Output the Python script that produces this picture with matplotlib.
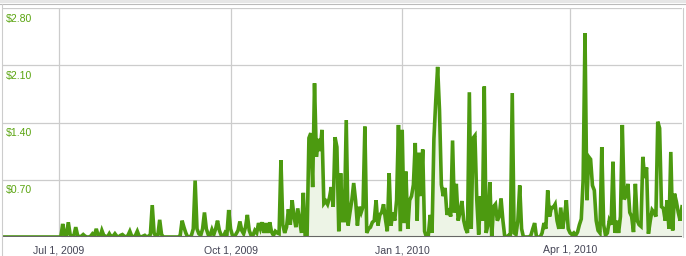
import numpy as np
import pandas as pd
import matplotlib
matplotlib.use("Agg")
import matplotlib.pyplot as plt
from matplotlib.lines import Line2D
from matplotlib.patches import Rectangle

# daily revenue, Jun 1 2009 .. Jun 1 2010
jun_2009 = [0.0] * 30
jul_2009 = [0.0, 0.0, 0.16, 0.03, 0.02, 0.18, 0.03, 0.0, 0.02, 0.12, 0.02, 0.0, 0.01, 0.03, 0.01, 0.0,
            0.0, 0.01, 0.04, 0.02, 0.10, 0.02, 0.0, 0.08, 0.02, 0.01, 0.0, 0.04, 0.0, 0.01, 0.04]
aug_2009 = [0.01, 0.0, 0.02, 0.03, 0.01, 0.0, 0.02, 0.07, 0.01, 0.0, 0.02, 0.07, 0.01, 0.0, 0.01, 0.02,
            0.0, 0.01, 0.03, 0.39, 0.05, 0.0, 0.02, 0.21, 0.03, 0.0, 0.0, 0.0, 0.0, 0.0, 0.0]
sep_2009 = [0.0, 0.0, 0.0, 0.02, 0.20, 0.12, 0.05, 0.0, 0.0, 0.02, 0.10, 0.69, 0.10, 0.04, 0.02,
            0.10, 0.30, 0.10, 0.03, 0.02, 0.09, 0.03, 0.10, 0.20, 0.08, 0.02, 0.0, 0.05, 0.02, 0.33]
oct_2009 = [0.10, 0.02, 0.0, 0.04, 0.08, 0.19, 0.08, 0.04, 0.12, 0.27, 0.08, 0.02, 0.02, 0.08, 0.05, 0.17,
            0.10, 0.18, 0.05, 0.17, 0.05, 0.18, 0.06, 0.02, 0.07, 0.05, 0.04, 0.94, 0.15, 0.05, 0.12]
nov_2009 = [0.34, 0.15, 0.45, 0.25, 0.12, 0.35, 0.20, 0.05, 0.54, 0.0, 0.0, 1.21, 1.27, 0.61, 1.88,
            0.98, 1.20, 1.05, 1.31, 0.41, 0.44, 0.40, 0.48, 0.61, 0.37, 1.22, 1.10, 0.07, 0.78, 0.20]
dec_2009 = [0.20, 1.43, 0.14, 0.30, 0.45, 0.66, 0.45, 0.14, 0.37, 0.30, 0.37, 1.35, 0.05, 0.10, 0.12, 0.18,
            0.20, 0.45, 0.14, 0.27, 0.30, 0.40, 0.22, 0.07, 0.78, 0.14, 0.30, 0.20, 0.45, 1.37, 0.07]
jan_2010 = [1.31, 0.17, 0.80, 0.10, 0.45, 0.50, 0.64, 1.15, 0.20, 1.03, 0.50, 1.07, 0.07, 0.0, 0.02, 0.27,
            0.05, 1.20, 1.67, 2.08, 1.55, 0.64, 0.50, 0.60, 0.27, 0.35, 0.25, 1.18, 0.30, 0.65, 0.20]
feb_2010 = [0.30, 0.44, 0.20, 0.10, 0.05, 1.77, 0.10, 1.21, 1.24, 0.45, 0.03, 0.50, 0.20, 1.84,
            0.05, 0.15, 0.67, 0.0, 0.37, 0.40, 0.20, 0.25, 0.47, 0.20, 0.0, 0.0, 0.02, 0.03]
mar_2010 = [1.76, 0.05, 0.03, 0.20, 0.63, 0.10, 0.0, 0.0, 0.0, 0.0, 0.02, 0.10, 0.17, 0.0, 0.0, 0.0,
            0.05, 0.17, 0.10, 0.57, 0.25, 0.36, 0.36, 0.40, 0.20, 0.10, 0.36, 0.10, 0.25, 0.45, 0.10]
apr_2010 = [0.05, 0.03, 0.05, 0.02, 0.06, 0.15, 0.22, 0.70, 2.49, 0.45, 0.98, 0.95, 0.63, 0.57, 0.20,
            0.08, 0.05, 1.10, 0.15, 0.02, 0.05, 0.20, 0.15, 0.92, 0.05, 0.20, 0.05, 0.25, 1.37, 0.46]
may_2010 = [0.50, 0.65, 0.30, 0.25, 0.06, 0.65, 0.20, 0.15, 0.13, 0.98, 0.72, 0.85, 0.04, 0.20, 0.33, 0.30,
            0.25, 1.41, 1.33, 0.37, 0.35, 0.20, 0.45, 0.10, 1.04, 0.08, 0.53, 0.43, 0.30, 0.20, 0.37]

values = (jun_2009 + jul_2009 + aug_2009 + sep_2009 + oct_2009 + nov_2009 + dec_2009
          + jan_2010 + feb_2010 + mar_2010 + apr_2010 + may_2010)
dates = pd.date_range("2009-06-01", periods=len(values), freq="D")

y_ticks = [0.70, 1.40, 2.10, 2.80]
y_labels = ["$0.70", "$1.40", "$2.10", "$2.80"]
x_ticks = ["2009-07-01", "2009-10-01", "2010-01-01", "2010-04-01"]
x_labels = ["Jul 1, 2009", "Oct 1, 2009", "Jan 1, 2010", "Apr 1, 2010"]

line_color = "#4c9a10"
fill_color = "#edf4e6"
grid_color = "#cccccc"

fig = plt.figure(figsize=(6.86, 2.56), dpi=100)
ax = fig.add_axes([3 / 686, 19 / 256, 679 / 686, 229 / 256])

ax.fill_between(dates, values, 0, color=fill_color, lw=0)
ax.plot(dates, values, color=line_color, lw=2.6, solid_joinstyle="miter")

ax.set_xlim(dates[0], dates[-1])
ax.set_ylim(0, 2.80)

for t in y_ticks:
    ax.axhline(t, color=grid_color, lw=0.9, zorder=0)
for t in x_ticks:
    ax.axvline(pd.Timestamp(t), color=grid_color, lw=0.9, zorder=0)
ax.axhline(0, color="#666666", lw=1.5, zorder=3)

ax.set_xticks([])
ax.set_yticks([])
for s in ax.spines.values():
    s.set_visible(False)

for t, lab in zip(y_ticks, y_labels):
    ax.annotate(lab, xy=(0, t), xycoords=("axes fraction", "data"), xytext=(2, -4),
                textcoords="offset points", ha="left", va="top", fontsize=7.6,
                color="#5aa410", family="Liberation Sans")

for t, lab in zip(x_ticks, x_labels):
    ax.annotate(lab, xy=(pd.Timestamp(t), 0), xycoords=("data", "axes fraction"), xytext=(0, -6),
                textcoords="offset points", ha="center", va="top", fontsize=7.6,
                color="#444455", family="Liberation Sans")

# outer frame of the page widget
fig.patches.append(Rectangle((0, 253 / 256), 1, 3 / 256, transform=fig.transFigure,
                             color="#e6e6e6", lw=0))
fig.lines.append(Line2D([0, 1], [252.5 / 256, 252.5 / 256], transform=fig.transFigure,
                        color="#bbbbbb", lw=0.8))
fig.lines.append(Line2D([1.5 / 686, 1.5 / 686], [0, 252.5 / 256], transform=fig.transFigure,
                        color="#cccccc", lw=0.8))
fig.lines.append(Line2D([683 / 686, 683 / 686], [19 / 256, 248 / 256], transform=fig.transFigure,
                        color="#cccccc", lw=0.8))

fig.savefig("out.png", dpi=100)
